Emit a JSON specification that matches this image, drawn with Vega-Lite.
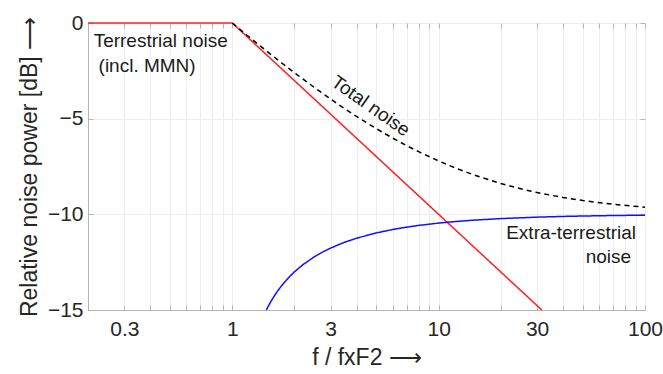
{
  "$schema": "https://vega.github.io/schema/vega-lite/v6.json",
  "width": 557,
  "height": 287,
  "autosize": "none",
  "padding": {"left": 88, "top": 23, "right": 18, "bottom": 64},
  "background": "white",
  "config": {
    "font": "Liberation Sans",
    "view": {"stroke": "#b4b4b4", "strokeWidth": 1},
    "axis": {"domainColor": "#b4b4b4", "tickColor": "#b4b4b4", "gridColor": "#ededed", "labelColor": "#262626", "titleColor": "#262626", "labelFont": "Liberation Sans", "titleFont": "Liberation Sans", "titleFontWeight": "normal"}
  },
  "datasets": {
    "lines": [
      {"f": 0.2, "db": 0, "series": "Terrestrial"},
      {"f": 1, "db": 0, "series": "Terrestrial"},
      {"f": 31.62, "db": -15, "series": "Terrestrial"},
      {"f": 1.4625, "db": -15.0, "series": "Extra"},
      {"f": 1.47, "db": -14.952, "series": "Extra"},
      {"f": 1.49, "db": -14.83, "series": "Extra"},
      {"f": 1.52, "db": -14.659, "series": "Extra"},
      {"f": 1.55, "db": -14.5, "series": "Extra"},
      {"f": 1.6, "db": -14.26, "series": "Extra"},
      {"f": 1.65, "db": -14.046, "series": "Extra"},
      {"f": 1.7, "db": -13.853, "series": "Extra"},
      {"f": 1.8, "db": -13.522, "series": "Extra"},
      {"f": 1.9, "db": -13.245, "series": "Extra"},
      {"f": 2, "db": -13.01, "series": "Extra"},
      {"f": 2.2, "db": -12.632, "series": "Extra"},
      {"f": 2.5, "db": -12.218, "series": "Extra"},
      {"f": 2.8, "db": -11.919, "series": "Extra"},
      {"f": 3, "db": -11.761, "series": "Extra"},
      {"f": 3.5, "db": -11.461, "series": "Extra"},
      {"f": 4, "db": -11.249, "series": "Extra"},
      {"f": 5, "db": -10.969, "series": "Extra"},
      {"f": 6, "db": -10.792, "series": "Extra"},
      {"f": 7, "db": -10.669, "series": "Extra"},
      {"f": 8, "db": -10.58, "series": "Extra"},
      {"f": 10, "db": -10.458, "series": "Extra"},
      {"f": 12, "db": -10.378, "series": "Extra"},
      {"f": 15, "db": -10.3, "series": "Extra"},
      {"f": 20, "db": -10.223, "series": "Extra"},
      {"f": 30, "db": -10.147, "series": "Extra"},
      {"f": 40, "db": -10.11, "series": "Extra"},
      {"f": 50, "db": -10.088, "series": "Extra"},
      {"f": 70, "db": -10.062, "series": "Extra"},
      {"f": 100, "db": -10.044, "series": "Extra"},
      {"f": 1, "db": 0, "series": "Total"},
      {"f": 1.1, "db": -0.371, "series": "Total"},
      {"f": 1.2, "db": -0.706, "series": "Total"},
      {"f": 1.3, "db": -1.011, "series": "Total"},
      {"f": 1.5, "db": -1.549, "series": "Total"},
      {"f": 1.75, "db": -2.117, "series": "Total"},
      {"f": 2, "db": -2.596, "series": "Total"},
      {"f": 2.5, "db": -3.372, "series": "Total"},
      {"f": 3, "db": -3.979, "series": "Total"},
      {"f": 3.5, "db": -4.472, "series": "Total"},
      {"f": 4, "db": -4.881, "series": "Total"},
      {"f": 5, "db": -5.528, "series": "Total"},
      {"f": 6, "db": -6.021, "series": "Total"},
      {"f": 7, "db": -6.41, "series": "Total"},
      {"f": 8, "db": -6.726, "series": "Total"},
      {"f": 10, "db": -7.212, "series": "Total"},
      {"f": 12, "db": -7.57, "series": "Total"},
      {"f": 15, "db": -7.959, "series": "Total"},
      {"f": 20, "db": -8.386, "series": "Total"},
      {"f": 25, "db": -8.665, "series": "Total"},
      {"f": 30, "db": -8.861, "series": "Total"},
      {"f": 40, "db": -9.119, "series": "Total"},
      {"f": 50, "db": -9.281, "series": "Total"},
      {"f": 70, "db": -9.475, "series": "Total"},
      {"f": 100, "db": -9.626, "series": "Total"}
    ]
  },
  "resolve": {"axis": {"x": "independent", "y": "independent"}},
  "layer": [
    {
      "data": {"name": "lines"},
      "mark": {"type": "line", "strokeWidth": 1.5, "clip": false},
      "encoding": {
        "x": {
          "field": "f", "type": "quantitative",
          "scale": {"type": "log", "domain": [0.2, 100], "nice": false},
          "axis": {
            "values": [0.2,0.3,0.4,0.5,0.6,0.7,0.8,0.9,1,2,3,4,5,6,7,8,9,10,20,30,40,50,60,70,80,90,100],
            "labelExpr": "indexof([0.3,1,3,10,30,100], datum.value) >= 0 ? format(datum.value, '~g') : ''",
            "title": "f / fxF2 ⟶",
            "titleFontSize": 23,
            "titlePadding": 7,
            "labelFontSize": 21,
            "labelPadding": 13,
            "tickSize": -5,
            "grid": true,
            "labelFlush": false,
            "labelOverlap": false
          }
        },
        "y": {
          "field": "db", "type": "quantitative",
          "scale": {"domain": [-15, 0], "nice": false, "zero": false},
          "axis": {
            "values": [-15, -10, -5, 0],
            "format": "d",
            "title": "Relative noise power [dB] ⟶",
            "titleFontSize": 23,
            "titlePadding": 6,
            "labelFontSize": 21,
            "labelPadding": 10,
            "tickSize": -5,
            "grid": true
          }
        },
        "color": {
          "field": "series", "type": "nominal",
          "scale": {"domain": ["Extra", "Total", "Terrestrial"], "range": ["#1010ff", "#000000", "#ff2020"]},
          "legend": null
        },
        "strokeDash": {
          "field": "series", "type": "nominal",
          "scale": {"domain": ["Extra", "Total", "Terrestrial"], "range": [[1, 0], [5, 4], [1, 0]]},
          "legend": null
        }
      }
    },
    {
      "data": {"values": [
        {"f": 0.213, "db": -0.94, "label": "Terrestrial noise"},
        {"f": 0.225, "db": -2.25, "label": "(incl. MMN)"}
      ]},
      "mark": {"type": "text", "align": "left", "baseline": "middle", "fontSize": 19, "color": "#1a1a1a"},
      "encoding": {
        "x": {"field": "f", "type": "quantitative", "scale": {"type": "log", "domain": [0.2, 100], "nice": false},
          "axis": {"orient": "top", "values": [0.2,0.3,0.4,0.5,0.6,0.7,0.8,0.9,1,2,3,4,5,6,7,8,9,10,20,30,40,50,60,70,80,90,100], "labels": false, "title": null, "grid": false, "domain": false, "tickSize": -5}},
        "y": {"field": "db", "type": "quantitative", "scale": {"domain": [-15, 0], "nice": false, "zero": false},
          "axis": {"orient": "right", "values": [-15, -10, -5, 0], "labels": false, "title": null, "grid": false, "domain": false, "tickSize": -5}},
        "text": {"field": "label"}
      }
    },
    {
      "data": {"values": [
        {"f": 4.69, "db": -4.34, "label": "Total noise"}
      ]},
      "mark": {"type": "text", "align": "center", "baseline": "middle", "fontSize": 19, "angle": 35, "color": "#1a1a1a"},
      "encoding": {
        "x": {"field": "f", "type": "quantitative", "scale": {"type": "log", "domain": [0.2, 100], "nice": false}, "axis": null},
        "y": {"field": "db", "type": "quantitative", "scale": {"domain": [-15, 0], "nice": false, "zero": false}, "axis": null},
        "text": {"field": "label"}
      }
    },
    {
      "data": {"values": [
        {"f": 90.5, "db": -10.98, "label": "Extra-terrestrial"},
        {"f": 85.6, "db": -12.23, "label": "noise"}
      ]},
      "mark": {"type": "text", "align": "right", "baseline": "middle", "fontSize": 19, "color": "#1a1a1a"},
      "encoding": {
        "x": {"field": "f", "type": "quantitative", "scale": {"type": "log", "domain": [0.2, 100], "nice": false}, "axis": null},
        "y": {"field": "db", "type": "quantitative", "scale": {"domain": [-15, 0], "nice": false, "zero": false}, "axis": null},
        "text": {"field": "label"}
      }
    }
  ]
}
